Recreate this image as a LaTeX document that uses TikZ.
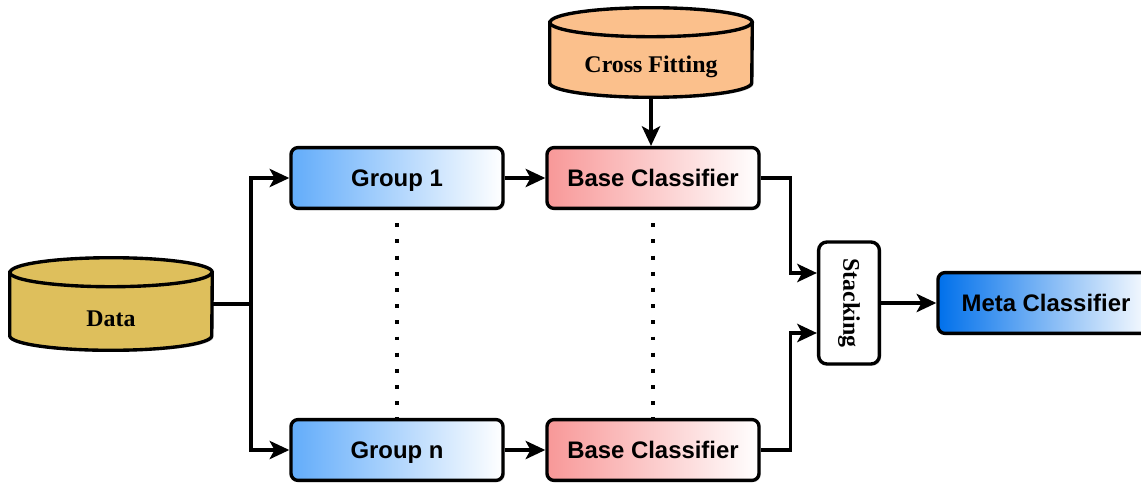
\documentclass[tikz,border=0pt]{standalone}
\usepackage{fontspec}
\setmainfont{Liberation Serif}
\setsansfont{Liberation Sans}
\usepackage{tikz}
\usetikzlibrary{shapes.geometric,arrows.meta,positioning,calc,shadows}
\definecolor{datagold}{RGB}{222,191,92}
\definecolor{crossorange}{RGB}{251,192,140}
\definecolor{groupblue}{RGB}{98,172,250}
\definecolor{basered}{RGB}{248,152,152}
\definecolor{metablue}{RGB}{0,112,235}
\tikzset{
  shad/.style={drop shadow={shadow xshift=1.2pt, shadow yshift=-1.2pt, opacity=0.3}},
  cylbox/.style={rectangle, inner sep=0pt, minimum width=5.05cm, minimum height=#1},
  cylline/.style={line width=2.4pt},
  cyltext/.style={font=\fontsize{17}{20}\selectfont\bfseries},
  gradbox/.style={rectangle, rounded corners=5pt, draw, line width=2.4pt,
                  left color=#1, right color=white, shad,
                  minimum width=5.3cm, minimum height=1.52cm,
                  text height=12.2pt, text depth=0pt,
                  font=\sffamily\bfseries\fontsize{17}{20}\selectfont},
  conn/.style={-{Stealth[length=14pt,width=13pt,inset=3.5pt]}, line width=2.4pt},
  plain/.style={line width=2.4pt},
  dotline/.style={line width=2.8pt, dash pattern=on 2.8pt off 8.7pt},
}
% cylinder drawn round an (empty) node: #1 node name, #2 fill colour
\newcommand{\cylshape}[2]{%
  \draw[cylline, fill=#2, shad] ($(#1.north west)+(0,14.5)$) -- ($(#1.south west)+(0,-14.5)$)
    arc[start angle=180, end angle=360, x radius=2.525cm, y radius=0.3625cm]
    -- ($(#1.north east)+(0,14.5)$)
    arc[start angle=0, end angle=180, x radius=2.525cm, y radius=0.3625cm] -- cycle;
  \draw[cylline] ($(#1.north west)+(0,14.5)$)
    arc[start angle=180, end angle=360, x radius=2.525cm, y radius=0.3625cm];
}
\begin{document}
\begin{tikzpicture}[x=0.025cm,y=-0.025cm]
  \useasboundingbox (0,0) rectangle (1141,494);
  % Cylinders
  \node[cylbox=2.3cm] (data) at (111,304) {};
  \cylshape{data}{datagold}
  \node[cyltext] (datatxt) at ([yshift=-0.36cm]data.center) {Data};
  \node[cylbox=2.225cm] (cross) at (651,52.5) {};
  \cylshape{cross}{crossorange}
  \node[cyltext] (crosstxt) at ([yshift=-0.36cm]cross.center) {Cross Fitting};
  % Groups and base classifiers
  \node[gradbox=groupblue] (g1) at (397,178) {Group 1};
  \node[gradbox=groupblue] (gn) at (397,450) {Group n};
  \node[gradbox=basered] (b1) at (653,178) {Base Classifier};
  \node[gradbox=basered] (bn) at (653,450) {Base Classifier};
  % Stacking and meta classifier
  \node[rectangle, rounded corners=6pt, draw, line width=2.4pt, fill=white, shad,
        rotate=-90, minimum width=3.05cm, minimum height=1.52cm,
        font=\fontsize{17}{20}\selectfont\bfseries] (st) at (849,303) {Stacking};
  \node[gradbox=metablue, minimum width=5.4cm] (meta) at (1046,303) {Meta Classifier};
  % Connectors
  \coordinate (split) at (251,304);
  \draw[plain] (data.east) -- (split);
  \draw[conn] (split) |- (g1.west);
  \draw[conn] (split) |- (gn.west);
  \draw[conn] (g1) -- (b1);
  \draw[conn] (gn) -- (bn);
  \draw[conn] (cross.south) -- (cross.south |- b1.north);
  \draw[conn] (b1.east) -- ++(30,0) |- ($(st.south)+(0,-30)$);
  \draw[conn] (bn.east) -- ++(30,0) |- ($(st.south)+(0,30)$);
  \draw[conn] (st.north) -- (meta.west);
  % Dotted links
  \draw[dotline] ([yshift=-0.33cm]g1.south) -- (gn.north);
  \draw[dotline] ([yshift=-0.33cm]b1.south) -- (bn.north);
\end{tikzpicture}
\end{document}
